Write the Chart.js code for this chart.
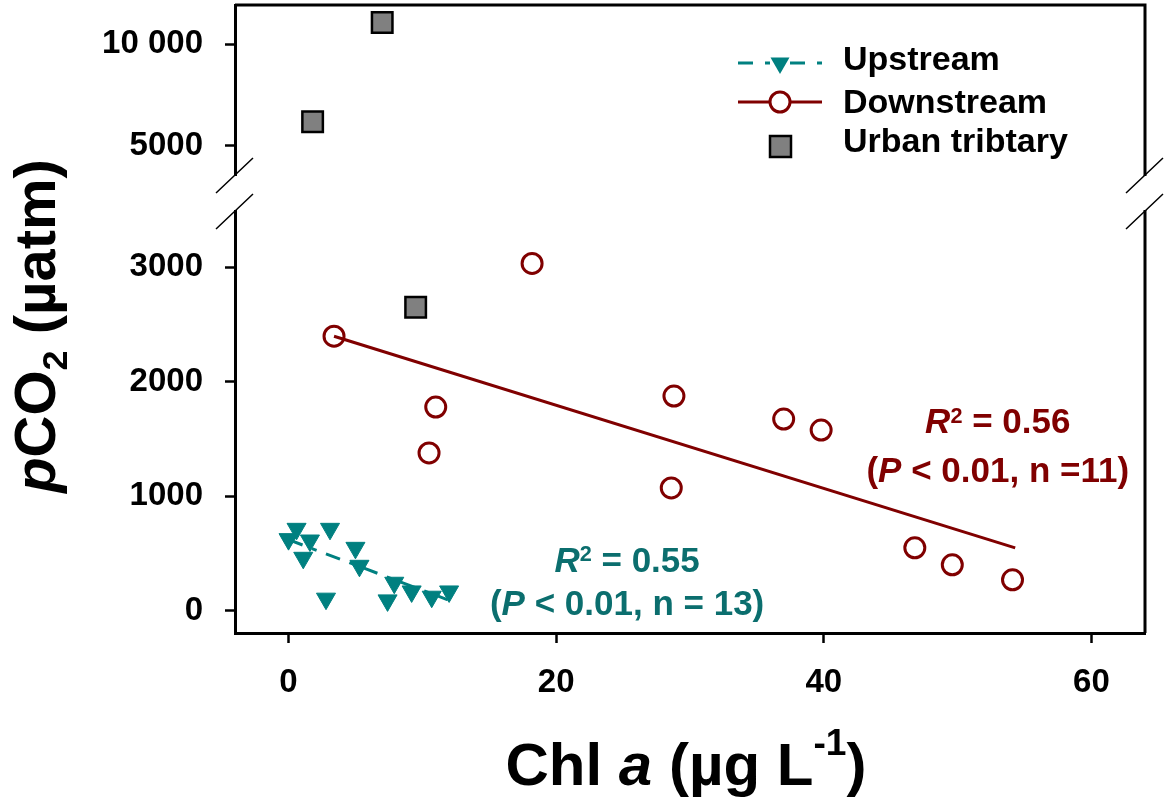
<!DOCTYPE html>
<html>
<head>
<meta charset="utf-8">
<script src="https://cdn.jsdelivr.net/npm/chart.js@4.4.1/dist/chart.umd.min.js"></script>
<style>
html, body { margin: 0; padding: 0; background: #fff; }
#wrap { width: 1168px; height: 808px; }
</style>
</head>
<body>
<div id="wrap"><canvas id="chart" width="1168" height="808"></canvas></div>
<script>
// Chl a (ug/L) against pCO2 (uatm)
var upX = [0.6, 3.1, 0.0, 1.6, 1.1, 5.0, 5.3, 2.8, 7.9, 7.4, 9.2, 10.7, 12.0];
var upY = [715, 715, 625, 613, 462, 549, 392, 105, 244, 90, 168, 122, 168];

var downX = [3.4, 18.2, 11.0, 10.5, 28.8, 28.6, 37.0, 39.8, 46.8, 49.6, 54.1];
var downY = [2398, 3034, 1779, 1378, 1875, 1072, 1674, 1578, 549, 401, 270];

var urbanX = [1.8, 7.0, 9.5];
var urbanY = [6180, 11070, 2650];

// regression lines (end points)
var upFitX = [0.0, 11.9];
var upFitY = [620, 95];
var downFitX = [3.4, 54.3];
var downFitY = [2398, 549];

var xTicks = [0, 20, 40, 60];
var yLowTicks = [0, 1000, 2000, 3000];
var yHighTicks = [5000, 10000];
var breakAt = 4000; // anything above sits on the upper (compressed) panel

var teal = '#008080';
var tealText = '#0b6e6e';
var maroon = '#800000';
var FONT = '"Liberation Sans", Arial, sans-serif';

function pts(xs, ys) {
    return xs.map(function (x, i) { return {x: x, y: ys[i]}; });
}
var urbanAll = pts(urbanX, urbanY);
var urbanHigh = urbanAll.filter(function (p) { return p.y > breakAt; });
var urbanLow = urbanAll.filter(function (p) { return p.y <= breakAt; });

// draws a line of text made of pieces (italic / superscript / subscript)
function richText(ctx, runs, cx, baseY, size, color) {
    var parts = runs.map(function (r) {
        var s = (r.sup || r.sub) ? size * 0.62 : size;
        var font = (r.i ? 'italic ' : '') + 'bold ' + s + 'px ' + FONT;
        ctx.font = font;
        return {t: r.t, font: font, w: ctx.measureText(r.t).width,
                dy: r.sup ? -size * r.sup : (r.sub ? size * r.sub : 0)};
    });
    var total = parts.reduce(function (a, p) { return a + p.w; }, 0);
    var x = cx - total / 2;
    ctx.fillStyle = color;
    ctx.textAlign = 'left';
    ctx.textBaseline = 'alphabetic';
    parts.forEach(function (p) {
        ctx.font = p.font;
        ctx.fillText(p.t, x, baseY + p.dy);
        x += p.w;
    });
}

function noPad(s) {
    s.paddingTop = 0; s.paddingBottom = 0; s.paddingLeft = 0; s.paddingRight = 0;
}

const framePlugin = {
    id: 'frame_and_labels',
    afterDraw: (chart) => {
        const ctx = chart.ctx;
        const a = chart.chartArea;
        const xs = chart.scales.x, yb = chart.scales.yBot;
        ctx.save();

        // top + right frame
        ctx.strokeStyle = '#000';
        ctx.lineWidth = 3;
        ctx.beginPath();
        ctx.moveTo(a.left, a.top);
        ctx.lineTo(a.right, a.top);
        ctx.lineTo(a.right, a.bottom);
        ctx.stroke();

        // axis break marks
        var by = chart.scales.yTop.bottom;
        [a.left, a.right].forEach(function (bx) {
            ctx.fillStyle = '#fff';
            ctx.fillRect(bx - 4, by - 17, 8, 34);
            ctx.strokeStyle = '#000';
            ctx.lineWidth = 1.5;
            ctx.beginPath();
            ctx.moveTo(bx - 19, by);
            ctx.lineTo(bx + 18, by - 35);
            ctx.moveTo(bx - 19, by + 36);
            ctx.lineTo(bx + 18, by + 1);
            ctx.stroke();
        });

        // legend
        var lx0 = 738, lx1 = 822, mx = 780, tx = 843;
        ctx.lineWidth = 3;
        ctx.strokeStyle = teal;
        ctx.setLineDash([15, 12, 5, 20]);
        ctx.beginPath(); ctx.moveTo(lx0, 63); ctx.lineTo(lx1, 63); ctx.stroke();
        ctx.setLineDash([]);
        ctx.fillStyle = teal;
        ctx.beginPath();
        ctx.moveTo(mx, 63 + 11); ctx.lineTo(mx - 9.5, 63 - 5.5); ctx.lineTo(mx + 9.5, 63 - 5.5);
        ctx.closePath(); ctx.fill();

        ctx.strokeStyle = maroon;
        ctx.beginPath(); ctx.moveTo(lx0, 102); ctx.lineTo(mx - 10, 102);
        ctx.moveTo(mx + 10, 102); ctx.lineTo(lx1, 102); ctx.stroke();
        ctx.fillStyle = '#fff';
        ctx.beginPath(); ctx.arc(mx, 102, 10, 0, 2 * Math.PI); ctx.fill(); ctx.stroke();

        ctx.fillStyle = '#808080';
        ctx.fillRect(mx - 10, 136, 21, 21);
        ctx.strokeStyle = '#000';
        ctx.lineWidth = 2.5;
        ctx.strokeRect(mx - 10, 136, 21, 21);

        ctx.fillStyle = '#000';
        ctx.font = 'bold 34px ' + FONT;
        ctx.textAlign = 'left';
        ctx.textBaseline = 'alphabetic';
        ctx.fillText('Upstream', tx, 70);
        ctx.fillText('Downstream', tx, 113);
        ctx.fillText('Urban tribtary', tx, 152);

        // regression statistics
        var cxT = xs.getPixelForValue(25.3);
        richText(ctx, [{t: 'R', i: true}, {t: '2', sup: 0.3}, {t: ' = 0.55'}],
                 cxT, yb.getPixelForValue(338), 35, tealText);
        richText(ctx, [{t: '('}, {t: 'P', i: true}, {t: ' < 0.01, n = 13)'}],
                 cxT, yb.getPixelForValue(-38), 35, tealText);
        var cxD = xs.getPixelForValue(53.0);
        richText(ctx, [{t: 'R', i: true}, {t: '2', sup: 0.3}, {t: ' = 0.56'}],
                 cxD, yb.getPixelForValue(1552), 35, maroon);
        richText(ctx, [{t: '('}, {t: 'P', i: true}, {t: ' < 0.01, n =11)'}],
                 cxD, yb.getPixelForValue(1124), 35, maroon);

        // axis titles
        richText(ctx, [{t: 'Chl '}, {t: 'a', i: true}, {t: ' (\u00b5g L'}, {t: '-1', sup: 0.5}, {t: ')'}],
                 686, 785, 60, '#000');
        ctx.translate(55, 326);
        ctx.rotate(-Math.PI / 2);
        richText(ctx, [{t: 'p', i: true}, {t: 'CO'}, {t: '2', sub: 0.2}, {t: ' (\u00b5atm)'}],
                 0, 0, 58, '#000');
        ctx.restore();
    }
};

var tickFont = {family: FONT, size: 33, weight: 'bold'};
var gridOpts = {drawOnChartArea: false, drawTicks: true, tickLength: 10, tickWidth: 2.5, tickColor: '#000'};
var borderOpts = {color: '#000', width: 3};

var ctx = document.getElementById('chart').getContext('2d');
var myChart = new Chart(ctx, {
    type: 'scatter',
    data: {
        datasets: [{
            label: 'Upstream fit',
            data: pts(upFitX, upFitY),
            showLine: true,
            borderColor: teal,
            borderWidth: 3,
            borderDash: [15, 10, 5, 10],
            pointRadius: 0,
            yAxisID: 'yBot'
        }, {
            label: 'Downstream fit',
            data: pts(downFitX, downFitY),
            showLine: true,
            borderColor: maroon,
            borderWidth: 3,
            pointRadius: 0,
            yAxisID: 'yBot'
        }, {
            label: 'Upstream',
            data: pts(upX, upY),
            pointStyle: 'triangle',
            rotation: 180,
            pointRadius: 11,
            backgroundColor: teal,
            borderColor: teal,
            borderWidth: 1,
            yAxisID: 'yBot'
        }, {
            label: 'Downstream',
            data: pts(downX, downY),
            pointStyle: 'circle',
            pointRadius: 10,
            backgroundColor: 'rgba(255,255,255,0)',
            borderColor: maroon,
            borderWidth: 3,
            yAxisID: 'yBot'
        }, {
            label: 'Urban tribtary',
            data: urbanLow,
            pointStyle: 'rect',
            pointRadius: 14.5,
            backgroundColor: '#808080',
            borderColor: '#000',
            borderWidth: 2.5,
            yAxisID: 'yBot'
        }, {
            label: 'Urban tribtary (upper panel)',
            data: urbanHigh,
            pointStyle: 'rect',
            pointRadius: 14.5,
            backgroundColor: '#808080',
            borderColor: '#000',
            borderWidth: 2.5,
            yAxisID: 'yTop'
        }]
    },
    options: {
        responsive: false,
        animation: false,
        events: [],
        layout: {autoPadding: false, padding: {top: 5, right: 23, left: 0, bottom: 0}},
        plugins: {
            legend: {display: false},
            tooltip: {enabled: false}
        },
        scales: {
            x: {
                type: 'linear',
                min: -4,
                max: 64,
                afterBuildTicks: (s) => { s.ticks = xTicks.map(v => ({value: v})); },
                afterFit: (s) => { s.height = 175; noPad(s); },
                grid: gridOpts,
                border: borderOpts,
                ticks: {font: tickFont, color: '#000', padding: 20, callback: (v) => String(v)}
            },
            yBot: {
                type: 'linear',
                position: 'left',
                stack: 'y',
                stackWeight: 440,
                min: -195,
                max: 3649,
                afterBuildTicks: (s) => { s.ticks = yLowTicks.map(v => ({value: v})); },
                afterFit: (s) => { s.width = 235; noPad(s); },
                grid: gridOpts,
                border: borderOpts,
                ticks: {font: tickFont, color: '#000', padding: 22, callback: (v) => String(v)}
            },
            yTop: {
                type: 'linear',
                position: 'left',
                stack: 'y',
                stackWeight: 188,
                min: 2667,
                max: 11939,
                afterBuildTicks: (s) => { s.ticks = yHighTicks.map(v => ({value: v})); },
                afterFit: (s) => { s.width = 235; noPad(s); },
                grid: gridOpts,
                border: borderOpts,
                ticks: {font: tickFont, color: '#000', padding: 22,
                        callback: (v) => v >= 10000 ? '10 000' : String(v)}
            }
        }
    },
    plugins: [framePlugin]
});
</script>
</body>
</html>
